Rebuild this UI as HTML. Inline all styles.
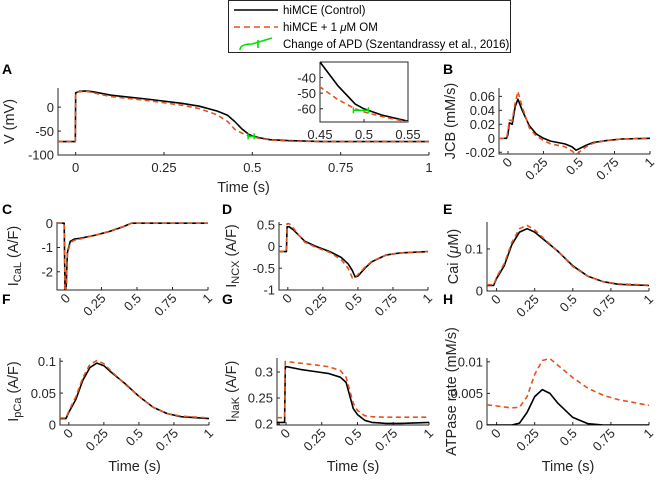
<!DOCTYPE html>
<html><head><meta charset="utf-8">
<style>
html,body{margin:0;padding:0;background:#fff;}
svg{display:block;font-family:"Liberation Sans",sans-serif;}
</style></head>
<body>
<svg id="fig" width="659" height="480" viewBox="0 0 659 480" xmlns="http://www.w3.org/2000/svg">
  <g>
    <rect x="228.5" y="0.5" width="282" height="52" fill="#fff" stroke="#262626" stroke-width="1"/>
    <line x1="234" y1="10" x2="278" y2="10" stroke="#000" stroke-width="1.6"/>
    <text x="283" y="14" font-size="11.5" fill="#000">hiMCE (Control)</text>
    <line x1="234" y1="27" x2="278" y2="27" stroke="#e2531f" stroke-width="1.6" stroke-dasharray="6,4"/>
    <text x="283" y="31" font-size="11.5" fill="#000">hiMCE + 1 <tspan font-style="italic">μ</tspan>M OM</text>
    <g stroke="#00e000" stroke-width="1.6" fill="none">
      <path d="M240,50 Q240,44 252,44 L272,38"/><line x1="258" y1="40" x2="258" y2="48"/>
    </g>
    <text x="283" y="48" font-size="11.5" fill="#000">Change of APD (Szentandrassy et al., 2016)</text>
  </g>
  <g id="panels"></g>
</svg>
<script>
// ---- data ----
const tA = [-0.05,-0.001,0,0.01,0.03,0.05,0.1,0.2,0.3,0.35,0.4,0.43,0.45,0.47,0.49,0.5,0.52,0.55,0.6,0.7,0.8,1.0];
const vCtrl = [-72,-72,30,33,34,32,25,17,8,2,-8,-17,-30,-45,-57,-60,-64,-68,-70,-72,-72,-72];
const vOM   = [-72,-72,30,32,33,30,22,14,4,-3,-16,-30,-46,-54,-60,-62,-65,-68.5,-71,-72,-72,-72];
const apdX = [0.488,0.505];
const apdY = -61;

const tB = [-0.063,-0.01,0,0.01,0.03,0.05,0.07,0.1,0.15,0.2,0.25,0.3,0.4,0.45,0.48,0.5,0.55,0.6,0.7,0.8,1.0];
const jcbCtrl = [0,0,0.005,0.022,0.02,0.045,0.056,0.04,0.018,0.006,0,-0.004,-0.008,-0.012,-0.017,-0.015,-0.01,-0.006,-0.003,-0.001,0];
const jcbOM   = [0,0,0.01,0.026,0.025,0.05,0.067,0.045,0.015,0.003,-0.003,-0.008,-0.012,-0.018,-0.023,-0.02,-0.012,-0.007,-0.003,-0.001,0];

const tC = [-0.063,-0.012,-0.006,0,0.01,0.03,0.06,0.1,0.2,0.3,0.4,0.46,0.5,1.0];
const icalCtrl = [0,0,-3,-3,-1.2,-0.75,-0.65,-0.62,-0.5,-0.35,-0.15,0,0,0];
const icalOM   = [0,0,-3,-3,-1.3,-0.8,-0.7,-0.65,-0.5,-0.34,-0.14,0,0,0];

const tD = [-0.063,-0.01,-0.005,0.01,0.04,0.08,0.12,0.2,0.3,0.38,0.43,0.46,0.48,0.5,0.55,0.6,0.7,0.8,1.0];
const ncxCtrl = [-0.12,-0.12,0.45,0.45,0.38,0.25,0.12,0,-0.12,-0.25,-0.4,-0.55,-0.7,-0.68,-0.5,-0.35,-0.2,-0.15,-0.12];
const ncxOM   = [-0.12,-0.12,0.52,0.52,0.42,0.25,0.1,-0.02,-0.14,-0.3,-0.5,-0.72,-0.7,-0.65,-0.48,-0.34,-0.2,-0.15,-0.12];

const tE = [-0.063,-0.02,0,0.05,0.1,0.15,0.2,0.25,0.3,0.4,0.5,0.6,0.7,0.8,1.0];
const caiCtrl = [0.013,0.013,0.03,0.06,0.11,0.14,0.148,0.14,0.125,0.095,0.06,0.035,0.022,0.016,0.013];
const caiOM   = [0.015,0.015,0.033,0.065,0.115,0.148,0.156,0.145,0.128,0.095,0.058,0.035,0.022,0.017,0.014];

const ipcaCtrl = [0.01,0.01,0.02,0.04,0.07,0.09,0.097,0.093,0.083,0.065,0.045,0.028,0.018,0.013,0.01];
const ipcaOM   = [0.011,0.011,0.022,0.044,0.074,0.095,0.101,0.096,0.085,0.064,0.045,0.028,0.018,0.014,0.011];

const tG = [-0.063,-0.01,-0.005,0.01,0.1,0.2,0.3,0.38,0.42,0.45,0.47,0.5,0.55,0.6,0.7,0.8,1.0];
const inakCtrl = [0.203,0.203,0.31,0.31,0.305,0.301,0.297,0.29,0.28,0.25,0.23,0.218,0.207,0.203,0.201,0.201,0.203];
const inakOM   = [0.212,0.212,0.32,0.32,0.317,0.314,0.31,0.303,0.29,0.26,0.24,0.226,0.216,0.214,0.213,0.213,0.213];

const tH = [-0.063,0,0.1,0.15,0.2,0.25,0.3,0.35,0.4,0.5,0.6,0.7,0.8,1.0];
const atpCtrl = [0,0,0,0.0003,0.002,0.0045,0.0056,0.005,0.0035,0.0012,0.0002,0,0,0];
const atpOM   = [0.0032,0.003,0.0027,0.0028,0.0045,0.008,0.0102,0.0105,0.0095,0.0075,0.0058,0.0047,0.004,0.0031];

const xTicks = [0,0.25,0.5,0.75,1];
const xTickLabels = ['0','0.25','0.5','0.75','1'];

// ---- drawing ----
const NS = 'http://www.w3.org/2000/svg';
const root = document.getElementById('panels');
const TF = 13;   // tick font
const LF = 14.5; // label font
let clipId = 0;
function mk(tag, attrs, parent){
  const e = document.createElementNS(NS, tag);
  for (const k in attrs) e.setAttribute(k, attrs[k]);
  parent.appendChild(e);
  return e;
}
function panel(o){
  const g = mk('g', {}, root);
  
  
  const sx = v => o.x0 + (v - o.xmin) / (o.xmax - o.xmin) * (o.x1 - o.x0);
  const sy = v => o.yb - (v - o.ymin) / (o.ymax - o.ymin) * (o.yb - o.yt);
  const id = 'c' + (clipId++);
  const cp = mk('clipPath', {id: id}, g);
  mk('rect', {x: o.x0, y: o.yt, width: o.x1 - o.x0, height: o.yb - o.yt}, cp);
  const ax = mk('path', {d: `M${o.x0},${o.yt}V${o.yb}H${o.x1}` + (o.box ? `V${o.yt}H${o.x0}` : ''), fill: o.box ? '#fff' : 'none', stroke: '#262626', 'stroke-width': 1}, g);
  
  
  const tf = o.tf || TF;
  o.xt.forEach((v, i) => {
    const x = sx(v);
    mk('line', {x1: x, y1: o.yb, x2: x, y2: o.yb - 3, stroke: '#262626'}, g);
    let t;
    if (o.rot) {
      t = mk('text', {x: 0, y: 0, 'font-size': tf, fill: '#262626', 'text-anchor': 'end', transform: `translate(${x + 5},${o.yb + 9}) rotate(-45)`}, g);
    } else {
      t = mk('text', {x: x, y: o.yb + tf + 4, 'font-size': tf, fill: '#262626', 'text-anchor': 'middle'}, g);
    }
    t.textContent = o.xtl[i];
    
    
  });
  o.yt_.forEach((v, i) => {
    const y = sy(v);
    mk('line', {x1: o.x0, y1: y, x2: o.x0 + 3, y2: y, stroke: '#262626'}, g);
    const t = mk('text', {x: o.x0 - 4, y: y + tf * 0.36, 'font-size': tf, fill: '#262626', 'text-anchor': 'end'}, g);
    t.textContent = o.ytl[i];
    
    
  });
  const series = [[o.ctrl, '#000', null, 'control-line'], [o.om, '#e2531f', '5,3.5', 'om-line']];
  series.forEach(s => {
    const pts = o.t.map((tv, i) => sx(tv).toFixed(1) + ',' + sy(s[0][i]).toFixed(1)).join(' ');
    const a = {points: pts, fill: 'none', stroke: s[1], 'stroke-width': 1.6, 'clip-path': `url(#${id})`, 'stroke-linejoin': 'round'};
    if (s[2]) a['stroke-dasharray'] = s[2];
    const pl = mk('polyline', a, g);
    
    
  });
  if (o.apd) {
    const ag = mk('g', {stroke: '#00e000', 'stroke-width': 1.5}, g);
    
    
    const xa = sx(apdX[0]), xb = sx(apdX[1]), y = sy(apdY);
    mk('line', {x1: xa, y1: y, x2: xb, y2: y}, ag);
    mk('line', {x1: xa, y1: y - 3, x2: xa, y2: y + 3}, ag);
    mk('line', {x1: xb, y1: y - 3, x2: xb, y2: y + 3}, ag);
  }
  if (o.ylab) {
    const t = mk('text', {x: 0, y: 0, 'font-size': LF, fill: '#262626', 'text-anchor': 'middle', transform: `translate(${o.ylx},${(o.yt + o.yb) / 2}) rotate(-90)`}, g);
    t.innerHTML = o.ylab;
    
    
  }
  if (o.xlab) {
    const t = mk('text', {x: (o.x0 + o.x1) / 2, y: o.xly, 'font-size': LF, fill: '#262626', 'text-anchor': 'middle'}, g);
    t.textContent = 'Time (s)';
    
    
  }
  if (o.letter) {
    const t = mk('text', {x: o.lx, y: o.ly, 'font-size': 14, 'font-weight': 'bold', fill: '#000'}, g);
    t.textContent = o.letter;
    
    
  }
}
const sub = s => `<tspan dy="3" font-size="11">${s}</tspan>`;

panel({name:'panel-a', x0:58, x1:429, xmin:-0.05, xmax:1, yt:88, yb:155, ymin:-100, ymax:40,
  t:tA, ctrl:vCtrl, om:vOM, xt:xTicks, xtl:xTickLabels, yt_:[-100,-50,0], ytl:['-100','-50','0'],
  ylab:'V (mV)', ylx:14, xlab:true, xly:192, letter:'A', lx:2, ly:74, apd:true});
panel({name:'panel-a-inset', x0:320, x1:408, xmin:0.45, xmax:0.55, yt:62, yb:122, ymin:-68.5, ymax:-30, box:true,
  t:tA, ctrl:vCtrl, om:vOM, xt:[0.45,0.5,0.55], xtl:['0.45','0.5','0.55'], yt_:[-60,-50,-40], ytl:['-60','-50','-40'], apd:true});
panel({name:'panel-b', x0:499, x1:650, xmin:-0.063, xmax:1, yt:88, yb:154, ymin:-0.0225, ymax:0.072, rot:true,
  t:tB, ctrl:jcbCtrl, om:jcbOM, xt:xTicks, xtl:xTickLabels, yt_:[-0.02,0,0.02,0.04,0.06], ytl:['-0.02','0','0.02','0.04','0.06'],
  ylab:'JCB (mM/s)', ylx:455, letter:'B', lx:443, ly:74});
panel({name:'panel-c', x0:57, x1:208, xmin:-0.063, xmax:1, yt:222, yb:290, ymin:-2.75, ymax:0.05, rot:true,
  t:tC, ctrl:icalCtrl, om:icalOM, xt:xTicks, xtl:xTickLabels, yt_:[-2,-1,0], ytl:['-2','-1','0'],
  ylab:'I'+sub('CaL')+'<tspan dy="-3"> (A/F)</tspan>', ylx:18, letter:'C', lx:2, ly:214});
panel({name:'panel-d', x0:279, x1:428, xmin:-0.063, xmax:1, yt:222, yb:290, ymin:-1, ymax:0.56, rot:true,
  t:tD, ctrl:ncxCtrl, om:ncxOM, xt:xTicks, xtl:xTickLabels, yt_:[-1,-0.5,0,0.5], ytl:['-1','-0.5','0','0.5'],
  ylab:'I'+sub('NCX')+'<tspan dy="-3"> (A/F)</tspan>', ylx:236, letter:'D', lx:222, ly:214});
panel({name:'panel-e', x0:487, x1:649, xmin:-0.063, xmax:1, yt:222, yb:291, ymin:0, ymax:0.164, rot:true,
  t:tE, ctrl:caiCtrl, om:caiOM, xt:xTicks, xtl:xTickLabels, yt_:[0,0.1], ytl:['0','0.1'],
  ylab:'Cai (<tspan font-style="italic">μ</tspan>M)', ylx:458, letter:'E', lx:443, ly:214});
panel({name:'panel-f', x0:60, x1:209, xmin:-0.063, xmax:1, yt:358, yb:425, ymin:0, ymax:0.105, rot:true,
  t:tE, ctrl:ipcaCtrl, om:ipcaOM, xt:xTicks, xtl:xTickLabels, yt_:[0,0.05,0.1], ytl:['0','0.05','0.1'],
  ylab:'I'+sub('pCa')+'<tspan dy="-3"> (A/F)</tspan>', ylx:18, xlab:true, xly:471, letter:'F', lx:2, ly:304});
panel({name:'panel-g', x0:277, x1:429, xmin:-0.063, xmax:1, yt:358, yb:425, ymin:0.198, ymax:0.327, rot:true,
  t:tG, ctrl:inakCtrl, om:inakOM, xt:xTicks, xtl:xTickLabels, yt_:[0.2,0.25,0.3], ytl:['0.2','0.25','0.3'],
  ylab:'I'+sub('NaK')+'<tspan dy="-3"> (A/F)</tspan>', ylx:236, xlab:true, xly:471, letter:'G', lx:222, ly:304});
panel({name:'panel-h', x0:487, x1:649, xmin:-0.063, xmax:1, yt:358, yb:425, ymin:0, ymax:0.0106, rot:true,
  t:tH, ctrl:atpCtrl, om:atpOM, xt:xTicks, xtl:xTickLabels, yt_:[0,0.005,0.01], ytl:['0','0.005','0.01'],
  ylab:'ATPase rate (mM/s)', ylx:456, xlab:true, xly:471, letter:'H', lx:443, ly:304});
</script>
</body></html>
